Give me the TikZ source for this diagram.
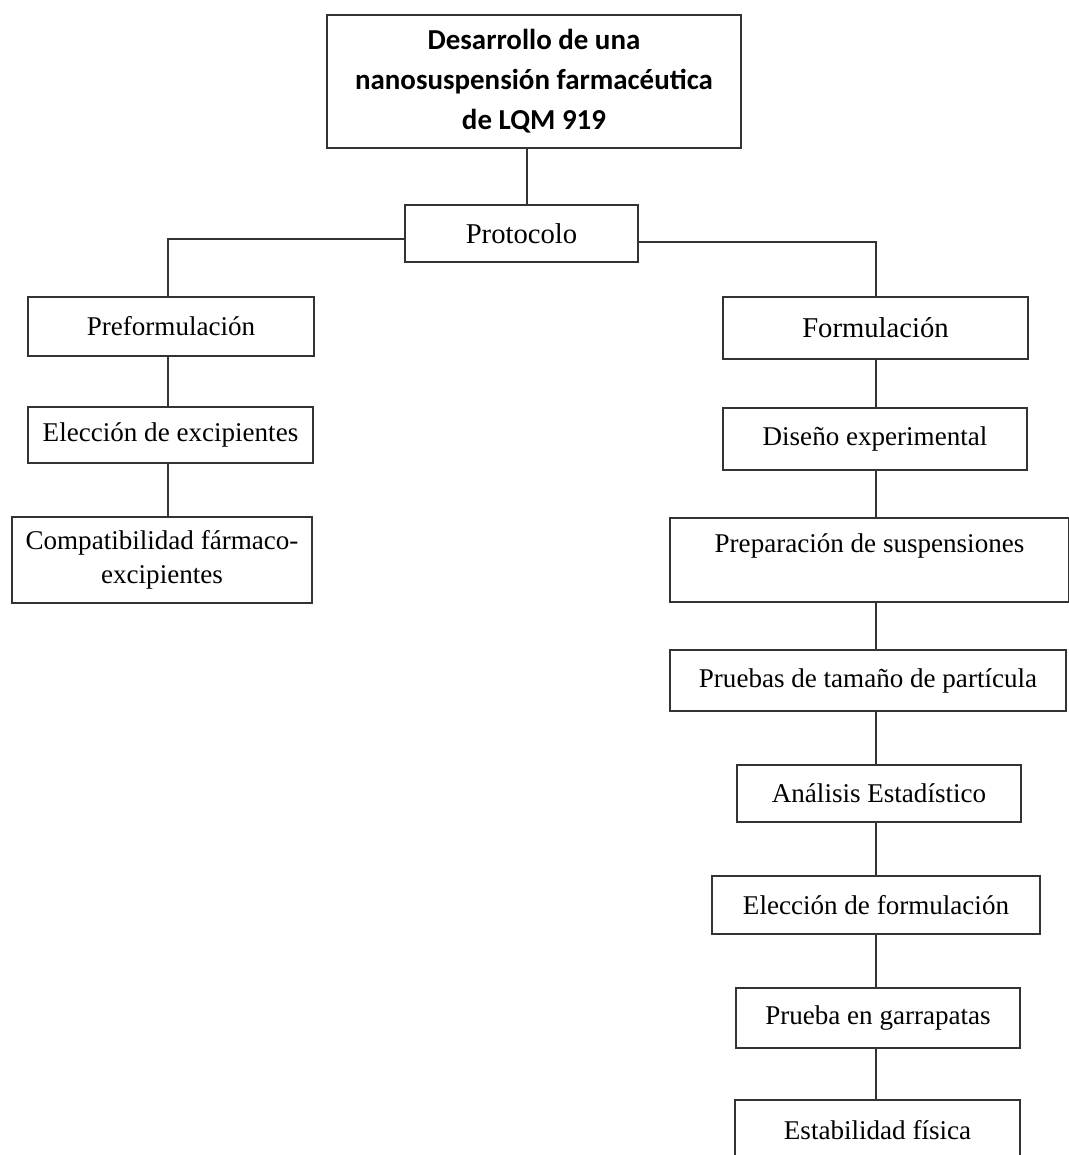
\documentclass[tikz,border=0pt]{standalone}
\usepackage{fontspec}
\setmainfont{Liberation Serif}
\newfontfamily\titlefont{Carlito}
\def\pxu{0.75pt}
\begin{document}
\begin{tikzpicture}[x=0.75pt, y=-0.75pt,
    box/.style={draw=black!80, line width=1.2pt, inner sep=0pt, align=center,
      font=\fontsize{20.3}{25.5}\selectfont},
    bigbox/.style={box, font=\fontsize{21.5}{25.5}\selectfont},
    link/.style={draw=black!80, line width=1.2pt}]
  \useasboundingbox (0,0) rectangle (1069,1155);
  \clip (0,0) rectangle (1069,1155);

  % Title and protocol
  \node[box, minimum width=414*\pxu, minimum height=133*\pxu,
    font=\titlefont\bfseries\fontsize{21.7}{30}\selectfont] (title) at (534,81.5)
    {Desarrollo de una\\nanosuspensión farmacéutica\\de LQM 919};
  \node[bigbox, minimum width=233*\pxu, minimum height=57*\pxu] (proto) at (521.5,233.5) {Protocolo};

  % Left branch
  \node[box, minimum width=286*\pxu, minimum height=59*\pxu] (pre) at (171,326.5) {Preformulación};
  \node[box, minimum width=285*\pxu, minimum height=56*\pxu] (elec) at (170.5,435) {Elección de excipientes};
  \node[box, minimum width=300*\pxu, minimum height=86*\pxu] (comp) at (162,560) {Compatibilidad fármaco-\\excipientes};

  % Right branch
  \node[bigbox, minimum width=305*\pxu, minimum height=62*\pxu] (form) at (875.5,328) {Formulación};
  \node[box, minimum width=304*\pxu, minimum height=62*\pxu] (dis) at (875,439) {Diseño experimental};
  \node[box, minimum width=399*\pxu, minimum height=84*\pxu] (prep) at (869.5,560) {Preparación de suspensiones\\\mbox{}};
  \node[box, minimum width=396*\pxu, minimum height=61*\pxu] (pru) at (868,680.5) {Pruebas de tamaño de partícula};
  \node[box, minimum width=284*\pxu, minimum height=57*\pxu] (ana) at (879,793.5) {Análisis Estadístico};
  \node[box, minimum width=328*\pxu, minimum height=58*\pxu] (elf) at (876,905) {Elección de formulación};
  \node[box, minimum width=284*\pxu, minimum height=60*\pxu] (gar) at (878,1018) {Prueba en garrapatas};
  \node[box, minimum width=285*\pxu, minimum height=60*\pxu] (est) at (877.5,1130) {Estabilidad física};

  % Spines for the connectors
  \coordinate (mspine) at (527,0);
  \coordinate (lspine) at (168,0);
  \coordinate (rspine) at (876,0);
  \coordinate (lbar) at (0,239);
  \coordinate (rbar) at (0,242);

  \draw[link] (title.south -| mspine) -- (proto.north -| mspine);
  \draw[link] (proto.west |- lbar) -| (pre.north -| lspine);
  \draw[link] (proto.east |- rbar) -| (form.north -| rspine);
  \foreach \a/\b in {pre/elec, elec/comp}
    \draw[link] (\a.south -| lspine) -- (\b.north -| lspine);
  \foreach \a/\b in {form/dis, dis/prep, prep/pru, pru/ana, ana/elf, elf/gar, gar/est}
    \draw[link] (\a.south -| rspine) -- (\b.north -| rspine);
\end{tikzpicture}
\end{document}
